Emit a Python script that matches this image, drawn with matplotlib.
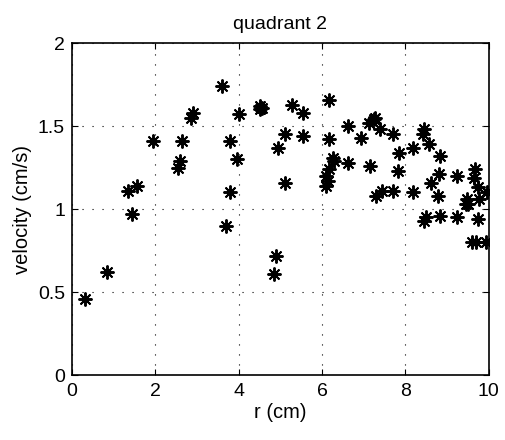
import matplotlib.pyplot as plt

plt.rcParams['font.family'] = ['Liberation Sans', 'DejaVu Sans']

r = [0.31, 0.85, 1.35, 1.45, 1.55, 1.95, 2.55, 2.6, 2.65, 2.85, 2.9,
     3.6, 3.7, 3.8, 3.8, 3.95, 4.0, 4.5, 4.55, 4.52, 4.85, 4.9,
     4.95, 5.1, 5.12, 5.28, 5.53, 5.55,
     6.17, 6.17, 6.25, 6.28, 6.16, 6.13, 6.09, 6.1,
     6.61, 6.63, 6.93, 7.15, 7.13, 7.25, 7.27, 7.38, 7.29, 7.43,
     7.70, 7.85, 7.83, 7.70, 8.18, 8.17, 8.44, 8.43, 8.56,
     8.84, 8.80, 8.62, 8.78, 8.44, 8.5, 8.82,
     9.24, 9.23, 9.48, 9.5, 9.45, 9.66, 9.65, 9.74, 9.77, 9.74,
     9.96, 9.60, 9.68, 9.94]
velocity = [0.46, 0.62, 1.11, 0.97, 1.14, 1.41, 1.25, 1.29, 1.41, 1.55, 1.58,
            1.74, 0.90, 1.10, 1.41, 1.30, 1.57, 1.60, 1.61, 1.62, 0.61, 0.72,
            1.37, 1.16, 1.45, 1.63, 1.58, 1.44,
            1.66, 1.42, 1.31, 1.29, 1.24, 1.17, 1.14, 1.20,
            1.50, 1.28, 1.43, 1.26, 1.52, 1.54, 1.55, 1.48, 1.08, 1.11,
            1.45, 1.34, 1.23, 1.11, 1.37, 1.10, 1.48, 1.45, 1.39,
            1.32, 1.21, 1.16, 1.08, 0.93, 0.95, 0.96,
            1.20, 0.95, 1.06, 1.03, 1.03, 1.24, 1.19, 1.13, 1.06, 0.94,
            1.10, 0.80, 0.80, 0.80]

fig = plt.figure(figsize=(5.05, 4.4), dpi=100)
ax = fig.add_axes([0.1426, 0.1477, 0.8254, 0.7543])
ax.plot(r, velocity, linestyle='none', marker=(8, 2, 0), markersize=10,
        markeredgewidth=1.4, color='black')
ax.set_xlim(0, 10)
ax.set_ylim(0, 2)
ax.set_xticks([0, 2, 4, 6, 8, 10])
ax.set_yticks([0, 0.5, 1, 1.5, 2])
ax.set_yticklabels(['0', '0.5', '1', '1.5', '2'])
ax.grid(True, linestyle=(0, (1, 8)), color='black', linewidth=0.8)
ax.tick_params(direction='in', labelsize=14, length=4, top=True, right=True)
ax.tick_params(axis='x', pad=6)
ax.tick_params(axis='y', pad=5)
for s in ax.spines.values():
    s.set_linewidth(1.2)
ax.set_title("quadrant 2", fontsize=14, pad=10)
ax.set_xlabel("r (cm)", fontsize=14.5, labelpad=2)
ax.set_ylabel("velocity (cm/s)", fontsize=14.5, labelpad=4)

plt.savefig("out.png", dpi=100)
